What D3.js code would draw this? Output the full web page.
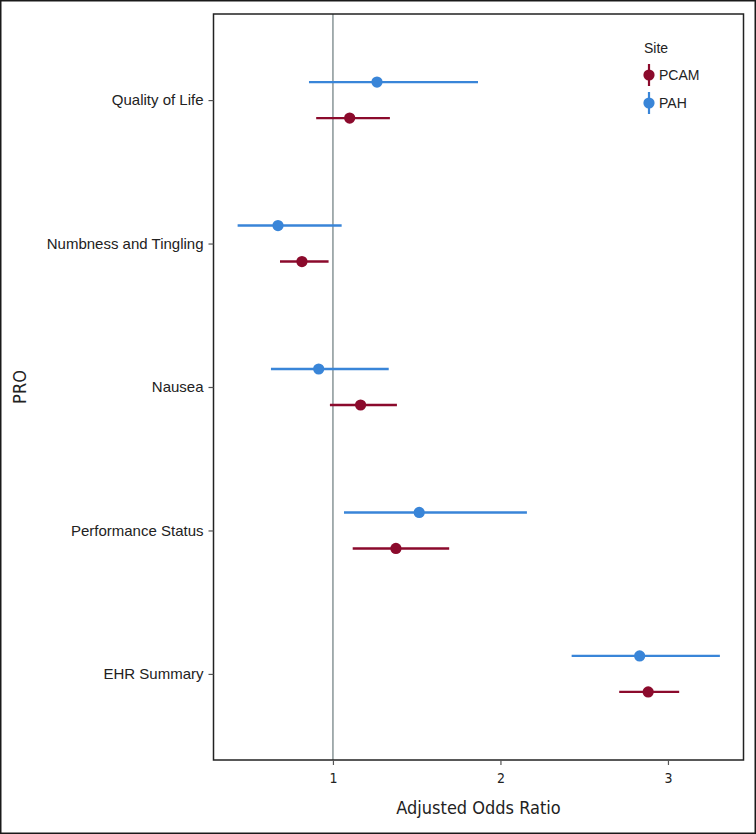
<!DOCTYPE html>
<html>
<head>
<meta charset="utf-8">
<script src="https://cdn.jsdelivr.net/npm/d3@7"></script>
<style>
  html, body { margin: 0; padding: 0; background: #fff; }
  svg { display: block; }
</style>
</head>
<body>
<script>
// ---- data ----
const categories = ["Quality of Life", "Numbness and Tingling", "Nausea", "Performance Status", "EHR Summary"];
const sites = ["PAH", "PCAM"];
const legendOrder = ["PCAM", "PAH"];
const pahOR   = [1.263, 0.672, 0.915, 1.515, 2.831];
const pahLow  = [0.857, 0.431, 0.630, 1.066, 2.425];
const pahHigh = [1.866, 1.052, 1.333, 2.158, 3.310];
const pcamOR   = [1.100, 0.815, 1.165, 1.376, 2.882];
const pcamLow  = [0.900, 0.684, 0.982, 1.118, 2.709];
const pcamHigh = [1.340, 0.974, 1.382, 1.694, 3.067];
const xTicks = [1, 2, 3];
const refValue = 1;
const xTitle = "Adjusted Odds Ratio";
const yTitle = "PRO";
const legendTitle = "Site";

const colors = { PCAM: "#8b0a2c", PAH: "#3985d8" };

const rows = [];
categories.forEach((c, i) => {
  rows.push({ cat: c, site: "PAH", or: pahOR[i], lo: pahLow[i], hi: pahHigh[i] });
  rows.push({ cat: c, site: "PCAM", or: pcamOR[i], lo: pcamLow[i], hi: pcamHigh[i] });
});

const W = 756, H = 834;
const plot = { left: 213.5, right: 743.5, top: 14, bottom: 760 };

const svg = d3.select("body").append("svg").attr("width", W).attr("height", H);

// outer frame
svg.append("rect").attr("x", 0.75).attr("y", 0.75).attr("width", W - 1.5).attr("height", H - 1.5)
  .attr("fill", "#fff").attr("stroke", "#1a1a1a").attr("stroke-width", 1.5);

const x = d3.scaleLinear().domain([0.287, 3.451]).range([plot.left, plot.right]);
const y = d3.scalePoint().domain(categories).range([plot.top, plot.bottom]).padding(0.6);
const dodge = d3.scalePoint().domain(sites).range([-18, 18]);

// reference line
svg.append("line")
  .attr("x1", x(refValue)).attr("x2", x(refValue))
  .attr("y1", plot.top).attr("y2", plot.bottom)
  .attr("stroke", "#8f9b9d").attr("stroke-width", 1.6);

// error bars
const g = svg.append("g");
g.selectAll("line.ci").data(rows).enter().append("line")
  .attr("class", "ci")
  .attr("x1", d => x(d.lo)).attr("x2", d => x(d.hi))
  .attr("y1", d => y(d.cat) + dodge(d.site)).attr("y2", d => y(d.cat) + dodge(d.site))
  .attr("stroke", d => colors[d.site]).attr("stroke-width", 2.4);
g.selectAll("circle.pt").data(rows).enter().append("circle")
  .attr("class", "pt")
  .attr("cx", d => x(d.or)).attr("cy", d => y(d.cat) + dodge(d.site))
  .attr("r", 5.6).attr("fill", d => colors[d.site]);

// plot border
svg.append("rect").attr("x", plot.left).attr("y", plot.top)
  .attr("width", plot.right - plot.left).attr("height", plot.bottom - plot.top)
  .attr("fill", "none").attr("stroke", "#222").attr("stroke-width", 1.5);

const condensed = "'Liberation Sans Narrow', 'DejaVu Sans Condensed', 'Roboto', sans-serif";
const regular = "'Liberation Sans', Arial, sans-serif";

// x axis
const xAxis = svg.append("g").attr("transform", `translate(0,${plot.bottom})`)
  .call(d3.axisBottom(x).tickValues(xTicks).tickFormat(d3.format("d")).tickSize(5).tickPadding(8));
xAxis.select(".domain").remove();
xAxis.selectAll(".tick line").attr("stroke", "#555").attr("stroke-width", 1.2);
xAxis.selectAll(".tick text").attr("fill", "#222")
  .style("font-family", condensed).style("font-size", "14px");

// y axis
const yAxis = svg.append("g").attr("transform", `translate(${plot.left},0)`)
  .call(d3.axisLeft(y).tickSize(5).tickPadding(5));
yAxis.select(".domain").remove();
yAxis.selectAll(".tick line").attr("stroke", "#555").attr("stroke-width", 1.2);
yAxis.selectAll(".tick text").attr("fill", "#222")
  .style("font-family", regular).style("font-size", "15px");

// axis titles
svg.append("text").attr("x", (plot.left + plot.right) / 2).attr("y", 814)
  .attr("text-anchor", "middle").attr("fill", "#222")
  .style("font-family", condensed).style("font-size", "18px").text(xTitle);
svg.append("text").attr("transform", `translate(26,${(plot.top + plot.bottom) / 2}) rotate(-90)`)
  .attr("text-anchor", "middle").attr("fill", "#222")
  .style("font-family", condensed).style("font-size", "18px").text(yTitle);

// legend
const leg = svg.append("g").attr("transform", "translate(644,0)");
leg.append("text").attr("x", 0).attr("y", 53).attr("fill", "#222")
  .style("font-family", regular).style("font-size", "14px")
  .text(legendTitle);
const legY = d3.scalePoint().domain(legendOrder).range([75, 103]);
const items = leg.selectAll("g.item").data(legendOrder).enter().append("g").attr("class", "item")
  .attr("transform", d => `translate(5,${legY(d)})`);
items.append("line").attr("x1", 0).attr("x2", 0).attr("y1", -11).attr("y2", 11)
  .attr("stroke", d => colors[d]).attr("stroke-width", 2.2);
items.append("circle").attr("r", 5.6).attr("fill", d => colors[d]);
items.append("text").attr("x", 10).attr("y", 5).attr("fill", "#222")
  .style("font-family", regular).style("font-size", "14px")
  .text(d => d);
</script>
</body>
</html>
